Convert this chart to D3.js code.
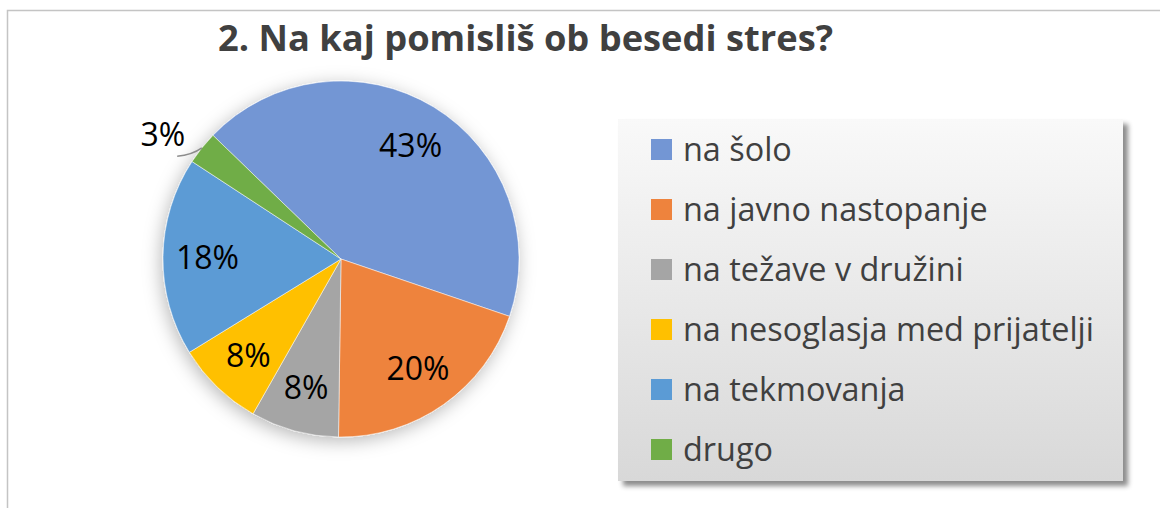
<!DOCTYPE html>
<html>
<head>
<meta charset="utf-8">
<script src="https://cdn.jsdelivr.net/npm/d3@7"></script>
<style>
  body { margin: 0; background: #fff; }
  svg { display: block; }
  .title { font-family: "Open Sans", sans-serif; font-weight: bold; fill: #404040; }
  .pctLabel { font-family: "Open Sans", sans-serif; fill: #000; }
  .legendText { font-family: "Open Sans", sans-serif; fill: #404040; }
</style>
</head>
<body>
<div id="chart"></div>
<script>
var titleText = "2. Na kaj pomisliš ob besedi stres?";
var categories = ["na šolo", "na javno nastopanje", "na težave v družini", "na nesoglasja med prijatelji", "na tekmovanja", "drugo"];
var values = [43, 20, 8, 8, 18, 3];
var colors = ["#7396d4", "#ee833d", "#a5a5a5", "#ffc000", "#5b9bd5", "#70ad47"];

var width = 1160;
var height = 508;

var svg = d3.select("#chart")
  .append("svg")
  .attr("width", width)
  .attr("height", height);

var defs = svg.append("defs");

// soft shadow round the pie
var pieShadow = defs.append("filter")
  .attr("id", "pieShadow")
  .attr("x", "-30%").attr("y", "-30%")
  .attr("width", "160%").attr("height", "160%");
pieShadow.append("feDropShadow")
  .attr("dx", -2).attr("dy", 4)
  .attr("stdDeviation", 9)
  .attr("flood-color", "#000")
  .attr("flood-opacity", 0.28);

// legend shadow
var legShadow = defs.append("filter")
  .attr("id", "legShadow")
  .attr("x", "-10%").attr("y", "-10%")
  .attr("width", "120%").attr("height", "120%");
legShadow.append("feDropShadow")
  .attr("dx", 5).attr("dy", 5)
  .attr("stdDeviation", 2.5)
  .attr("flood-color", "#000")
  .attr("flood-opacity", 0.45);

var grad = defs.append("linearGradient")
  .attr("id", "legGrad")
  .attr("x1", 0).attr("y1", 0)
  .attr("x2", 0).attr("y2", 1);
grad.append("stop").attr("offset", "0%").attr("stop-color", "#f9f9f9");
grad.append("stop").attr("offset", "100%").attr("stop-color", "#d8d8d8");

// chart border (only left and top are in view)
svg.append("rect")
  .attr("x", 7.5).attr("y", 10.5)
  .attr("width", width + 20).attr("height", height + 20)
  .attr("fill", "#fff")
  .attr("stroke", "#c4c4c4")
  .attr("stroke-width", 1.5);

// fit a text to a wanted width
function fitText(sel, targetW) {
  var w = sel.node().getComputedTextLength();
  var fs = parseFloat(sel.attr("font-size"));
  sel.attr("font-size", (fs * targetW / w).toFixed(2));
}

// Title
var title = svg.append("text")
  .attr("class", "title")
  .attr("x", 525.5)
  .attr("y", 51)
  .attr("text-anchor", "middle")
  .attr("font-size", 34)
  .text(titleText);
fitText(title, 615);

// Pie
var cx = 341, cy = 259, radius = 178;
var start = -46 * Math.PI / 180;

var pie = d3.pie()
  .sort(null)
  .value(function(d) { return d; })
  .startAngle(start)
  .endAngle(start + 2 * Math.PI);

var arcs = pie(values);

var arc = d3.arc().innerRadius(0).outerRadius(radius);
var labelArc = d3.arc().innerRadius(radius * 0.75).outerRadius(radius * 0.75);
var edgeArc = d3.arc().innerRadius(radius).outerRadius(radius);
var outArc = d3.arc().innerRadius(radius * 1.12).outerRadius(radius * 1.12);

var g = svg.append("g")
  .attr("transform", "translate(" + cx + "," + cy + ")");

g.append("g")
  .attr("filter", "url(#pieShadow)")
  .selectAll("path")
  .data(arcs)
  .enter()
  .append("path")
  .attr("d", arc)
  .attr("fill", function(d, i) { return colors[i]; })
  .attr("stroke", "#fff")
  .attr("stroke-width", 0.5);

// Labels; small slices go outside with a leader line
arcs.forEach(function(d, i) {
  var pct = Math.round(d.value / d3.sum(values) * 100) + "%";
  var small = d.value < 5;
  var p = small ? outArc.centroid(d) : labelArc.centroid(d);
  var t = g.append("text")
    .attr("class", "pctLabel")
    .attr("x", p[0])
    .attr("y", p[1])
    .attr("text-anchor", small ? (p[0] < 0 ? "end" : "start") : "middle")
    .attr("dy", "0.36em")
    .attr("font-size", 32)
    .text(pct);
  if (small) {
    var e = edgeArc.centroid(d);
    var bb = t.node().getBBox();
    var ex = bb.x + bb.width - 8, ey = bb.y + bb.height + 1;
    g.append("path")
      .attr("d", "M" + e[0] + "," + e[1] + " Q" + (e[0] - 10) + "," + (ey - 1) + " " + ex + "," + ey)
      .attr("fill", "none")
      .attr("stroke", "#8c8c8c")
      .attr("stroke-width", 1.5);
  }
});

// Legend
var legX = 618, legY = 119, legW = 505, legH = 362;
svg.append("rect")
  .attr("x", legX).attr("y", legY)
  .attr("width", legW).attr("height", legH)
  .attr("fill", "url(#legGrad)")
  .attr("filter", "url(#legShadow)");

var rowY = d3.scalePoint()
  .domain(categories)
  .range([149.5, 449.5]);

var legend = svg.append("g").attr("class", "legend");

var rows = legend.selectAll("g")
  .data(categories)
  .enter()
  .append("g")
  .attr("transform", function(d) { return "translate(" + (legX + 33) + "," + rowY(d) + ")"; });

rows.append("rect")
  .attr("x", 0).attr("y", -10.5)
  .attr("width", 21).attr("height", 21)
  .attr("fill", function(d, i) { return colors[i]; });

rows.append("text")
  .attr("class", "legendText")
  .attr("x", 32)
  .attr("dy", "0.36em")
  .attr("font-size", 30)
  .text(function(d) { return d; });

// scale legend text so the longest line matches
var longest = legend.selectAll("text").filter(function(d) { return d === "na nesoglasja med prijatelji"; });
var lw = longest.node().getComputedTextLength();
var legFs = 30 * 411 / lw;
legend.selectAll("text").attr("font-size", legFs.toFixed(2));
</script>
</body>
</html>
